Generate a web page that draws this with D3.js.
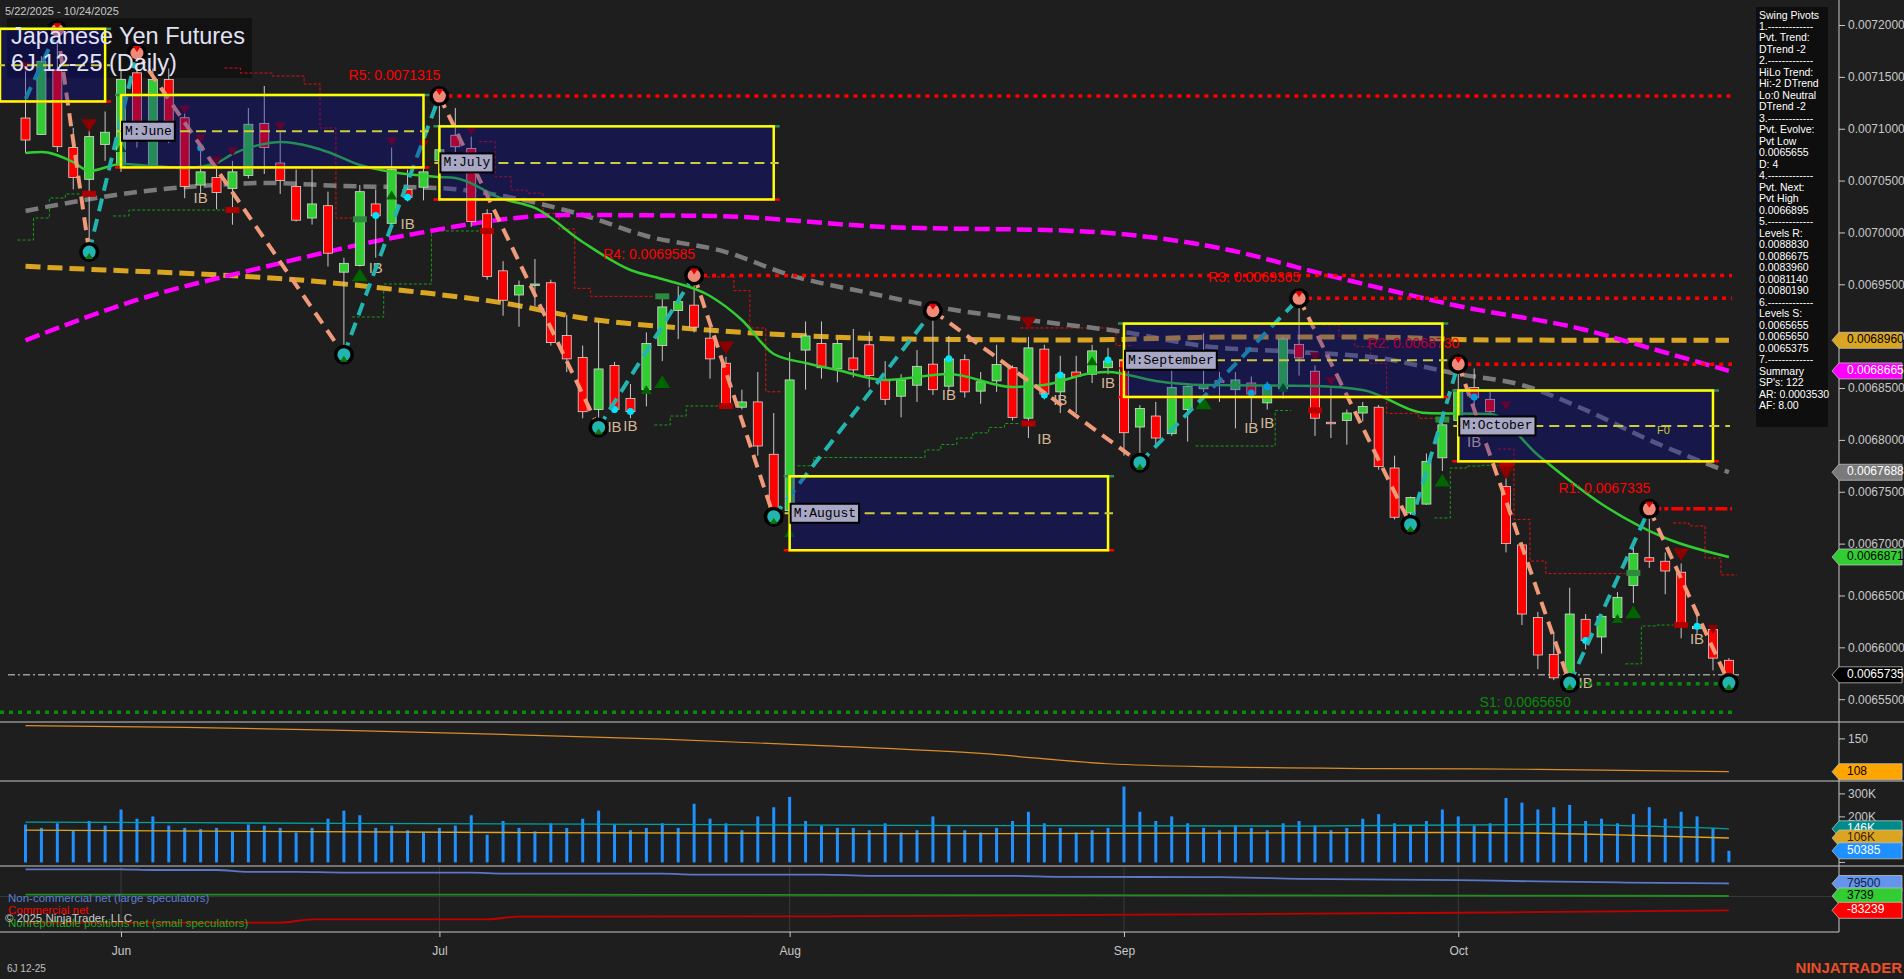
<!DOCTYPE html>
<html><head><meta charset="utf-8">
<script src="https://cdn.jsdelivr.net/npm/d3@7"></script>
<style>html,body{margin:0;padding:0;background:#1e1e1e;overflow:hidden}svg{display:block;font-family:"Liberation Sans",Arial,sans-serif}</style>
</head><body><svg id="chart" width="1904" height="979"></svg>
<script>
// ---------------- DATA ----------------
const dates = ["2025-05-22","2025-05-23","2025-05-27","2025-05-28","2025-05-29","2025-05-30",
"2025-06-02","2025-06-03","2025-06-04","2025-06-05","2025-06-06","2025-06-09","2025-06-10","2025-06-11","2025-06-12","2025-06-13","2025-06-16","2025-06-17","2025-06-18","2025-06-20","2025-06-23","2025-06-24","2025-06-25","2025-06-26","2025-06-27","2025-06-30",
"2025-07-01","2025-07-02","2025-07-03","2025-07-07","2025-07-08","2025-07-09","2025-07-10","2025-07-11","2025-07-14","2025-07-15","2025-07-16","2025-07-17","2025-07-18","2025-07-21","2025-07-22","2025-07-23","2025-07-24","2025-07-25","2025-07-28","2025-07-29","2025-07-30","2025-07-31",
"2025-08-01","2025-08-04","2025-08-05","2025-08-06","2025-08-07","2025-08-08","2025-08-11","2025-08-12","2025-08-13","2025-08-14","2025-08-15","2025-08-18","2025-08-19","2025-08-20","2025-08-21","2025-08-22","2025-08-25","2025-08-26","2025-08-27","2025-08-28","2025-08-29",
"2025-09-02","2025-09-03","2025-09-04","2025-09-05","2025-09-08","2025-09-09","2025-09-10","2025-09-11","2025-09-12","2025-09-15","2025-09-16","2025-09-17","2025-09-18","2025-09-19","2025-09-22","2025-09-23","2025-09-24","2025-09-25","2025-09-26","2025-09-29","2025-09-30",
"2025-10-01","2025-10-02","2025-10-03","2025-10-06","2025-10-07","2025-10-08","2025-10-09","2025-10-10","2025-10-13","2025-10-14","2025-10-15","2025-10-16","2025-10-17","2025-10-20","2025-10-21","2025-10-22","2025-10-23","2025-10-24"];

const openP = [.0071103,.0070945,.0071566,.0070818,.0070512,.0070847,.0070650,.0071539,.0070648,.0071475,.0071106,.0070457,.0070529,.0070423,.0070550,.0071051,.0070669,.0070444,.0070139,.0070258,.0069617,.0069681,.0070275,.0070088,.0070415,.0070436,
.0070691,.0070937,.0070809,.0070181,.0069630,.0069397,.0069490,.0069515,.0069006,.0068794,.0068293,.0068718,.0068399,.0068484,.0068909,.0069248,.0069299,.0068981,.0068739,.0068315,.0068366,.0067861,
.0067318,.0068866,.0068930,.0068684,.0068790,.0068917,.0068578,.0068421,.0068527,.0068730,.0068518,.0068773,.0068470,.0068569,.0068696,.0068209,.0068875,.0068463,.0068654,.0068633,.0068696,
.0068769,.0068124,.0068230,.0068060,.0068293,.0068493,.0068570,.0068484,.0068548,.0068357,.0068493,.0068921,.0068662,.0068170,.0068187,.0068259,.0068315,.0067729,.0067296,.0067381,.0067827,
.0068187,.0068505,.0068391,.0067551,.0066987,.0066287,.0065930,.0065748,.0066270,.0066100,.0066287,.0066596,.0066864,.0066830,.0066724,.0066180,.0066172,.0065875];
const highP = [.0071595,.0071700,.0071950,.0071009,.0070987,.0071166,.0071566,.0071730,.0071581,.0071581,.0071178,.0070852,.0070648,.0070690,.0071200,.0071412,.0070966,.0070606,.0070606,.0070393,.0069757,.0070457,.0070415,.0070818,.0070606,.0070627,
.0071315,.0071200,.0070924,.0070224,.0069723,.0069536,.0069744,.0069545,.0069206,.0068909,.0069150,.0068752,.0068539,.0069036,.0069397,.0069481,.0069585,.0069078,.0068802,.0068484,.0068654,.0068259,
.0068845,.0069142,.0069142,.0068972,.0069070,.0069044,.0068760,.0068633,.0068866,.0069245,.0069002,.0068824,.0068654,.0068917,.0068718,.0068993,.0068917,.0068811,.0068811,.0068917,.0068887,
.0068824,.0068336,.0068366,.0068760,.0068548,.0069027,.0068654,.0068654,.0068612,.0068561,.0068993,.0069365,.0068718,.0068505,.0068293,.0068366,.0068336,.0067848,.0067453,.0067869,.0068209,
.0068732,.0068688,.0068463,.0067742,.0067000,.0066342,.0066151,.0066575,.0066321,.0066321,.0066533,.0066978,.0067335,.0066915,.0066809,.0066363,.0066215,.0065896];
const lowP = [.0070766,.0070940,.0070776,.0070415,.0069811,.0070690,.0070583,.0070818,.0070627,.0070860,.0070330,.0070372,.0070224,.0070075,.0070521,.0070563,.0070372,.0070105,.0070075,.0069672,.0068822,.0069672,.0069757,.0070054,.0070300,.0070309,
.0070670,.0070775,.0070054,.0069545,.0069197,.0069091,.0069290,.0068909,.0068654,.0068209,.0068120,.0068260,.0068209,.0068323,.0068760,.0068972,.0069036,.0068590,.0068306,.0068293,.0067848,.0067260,
.0067296,.0068484,.0068590,.0068556,.0068603,.0068505,.0068336,.0068217,.0068366,.0068433,.0068463,.0068408,.0068349,.0068463,.0068187,.0068018,.0068391,.0068259,.0068259,.0068548,.0068633,
.0067848,.0067780,.0067954,.0068039,.0067984,.0068463,.0068366,.0068111,.0068166,.0068293,.0068399,.0068620,.0068039,.0068018,.0067954,.0068179,.0067712,.0067233,.0067183,.0067373,.0067700,
.0068166,.0068315,.0068209,.0066915,.0066215,.0065790,.0065684,.0065655,.0065981,.0065939,.0066236,.0066427,.0066766,.0066512,.0066087,.0066130,.0065778,.0065655];
const closeP = [.0070891,.0071650,.0070827,.0070529,.0070924,.0070966,.0071476,.0070988,.0071475,.0071072,.0070444,.0070584,.0070385,.0070584,.0071043,.0070818,.0070500,.0070118,.0070275,.0069800,.0069702,.0070393,.0070160,.0070606,.0070338,.0070584,
.0070797,.0070826,.0070105,.0069575,.0069346,.0069490,.0069503,.0068938,.0068781,.0068272,.0068684,.0068293,.0068272,.0068930,.0069282,.0069333,.0069087,.0068781,.0068315,.0068366,.0067941,.0067296,
.0068578,.0069002,.0068696,.0068930,.0068675,.0068620,.0068391,.0068578,.0068709,.0068484,.0068781,.0068463,.0068560,.0068726,.0068217,.0068887,.0068442,.0068633,.0068612,.0068858,.0068760,
.0068069,.0068302,.0068018,.0068505,.0068514,.0068535,.0068560,.0068578,.0068442,.0068518,.0068972,.0068790,.0068209,.0068165,.0068259,.0068323,.0067742,.0067254,.0067445,.0067793,.0068145,
.0068484,.0068408,.0068272,.0067000,.0066321,.0065926,.0065706,.0066321,.0066066,.0066299,.0066482,.0066906,.0066830,.0066736,.0066193,.0066200,.0065896,.0065735];

const priceTicks = [0.0072,0.00715,0.0071,0.00705,0.0070,0.00695,0.0069,0.00685,0.0068,0.00675,0.0067,0.00665,0.0066,0.00655];

// moving averages (bar index, value)
const maMagenta = [[0,.0068960],[7,.0069349],[15,.0069667],[24,.0069975],[34,.0070168],[43,.0070159],[54,.0070053],[66,.0070014],[75,.0069850],[82,.0069580],[90,.0069291],[98,.0069060],[102,.0068886],[107,.0068665]];
const maGold = [[0,.0069673],[5,.0069638],[11,.0069599],[18,.0069532],[24,.0069436],[30,.0069320],[35,.0069175],[42,.0069069],[48,.0069011],[55,.0068973],[66,.0068963],[76,.0068992],[84,.0068992],[92,.0068963],[107,.0068960]];
const maGray = [[0,.0070207],[3,.0070294],[7,.0070390],[11,.0070448],[15,.0070477],[20,.0070448],[26,.0070428],[30,.0070351],[35,.0070168],[39,.0069966],[44,.0069811],[48,.0069590],[53,.0069416],[58,.0069262],[64,.0069137],[69,.0069040],[74,.0068905],[80,.0068847],[85,.0068790],[90,.0068635],[94,.0068529],[98,.0068288],[102,.0067999],[107,.0067688]];
const maGreen = [[0,.0070766],[1,.0070776],[3,.0070679],[4,.0070592],[6,.0070660],[8,.0070641],[10,.0070621],[12,.0070670],[13,.0070756],[15,.0070853],[16,.0070872],[18,.0070824],[19,.0070776],[21,.0070650],[23,.0070583],[26,.0070535],[27,.0070525],[30,.0070322],[32,.0070236],[35,.0069908],[38,.0069638],[40,.0069551],[43,.0069387],[45,.0069156],[47,.0068828],[49,.0068741],[51,.0068674],[54,.0068577],[58,.0068635],[62,.0068510],[64,.0068529],[67,.0068645],[68,.0068655],[71,.0068568],[74,.0068529],[81,.0068520],[84,.0068481],[88,.0068259],[92,.0068250],[95,.0067854],[99,.0067382],[103,.0067054],[107,.0066871]];

// swing pivots (bar index, price)
const pivots = [[0,.0071287],[2,.0071950],[4,.0069811],[7,.0071730],[20,.0068822],[26,.0071315],[36,.0068120],[42,.0069585],[47,.0067260],[57,.0069245],[70,.0067780],[80,.0069365],[87,.0067183],[90,.0068732],[97,.0065655],[102,.0067335],[107,.0065655]];
const pivotType = ["s","H","L","H","L","H","L","H","L","H","L","H","L","H","L","H","L"];

// levels
const levelNames = ["R5","R4","R3","R2","R1","S1"];
const levelValues = [0.0071315,0.0069585,0.0069365,0.0068730,0.0067335,0.0065650];
const levelFrom = [26,42,80,90,102,97];
const levelS3 = 0.0065375;
const lastPrice = 0.0065735;

// monthly boxes
const boxLabels = ["", "M:June","M:July","M:August","M:September","M:October"];
const boxStart = [null,6,26,48,69,90];
const boxEnd = [5,25,47,68,89,106];
const boxTop = [0.0071963,0.0071325,0.0071023,0.0067649,0.0069121,0.0068476];
const boxBottom = [0.0071263,0.0070627,0.0070318,0.0066936,0.0068414,0.0067793];

// step stop lines [bar index, price]
const greenSteps = [
 [[0,.0069927],[1,.0070139],[2,.0070332],[3,.0070371]],
 [[6,.0070159],[7,.0070216],[12,.0070216]],
 [[21,.0069185],[22,.0069185],[23,.0069503],[25,.0069503],[26,.0070014],[28,.0070014]],
 [[40,.0068144],[41,.0068230],[42,.0068327],[43,.0068327]],
 [[49,.0067750],[50,.0067830],[56,.0067830],[57,.0067903],[58,.0067955],[59,.0068018],[60,.0068068],[61,.0068120],[62,.0068158]],
 [[74,.0067941],[78,.0067941],[79,.0068283]],
 [[89,.0067247],[90,.0067729],[91,.0067748],[92,.0067755]],
 [[101,.0065841],[102,.0066206],[103,.0066215]]
];
const redSteps = [
 [[13,.0071585],[14,.0071537],[15,.0071537],[16,.0071508],[17,.0071508],[18,.0071431],[19,.0071007],[20,.0070139]],
 [[29,.0070875],[30,.0070537],[31,.0070409],[32,.0070380],[33,.0070182],[34,.0070033],[35,.0069461],[36,.0069384],[39,.0069384]],
 [[43,.0069571],[44,.0069571],[45,.0069439],[46,.0069079],[47,.0068464]],
 [[63,.0069079],[68,.0069079],[69,.0068909]],
 [[82,.0069108],[83,.0068995],[84,.0068898],[85,.0068738],[86,.0068256],[89,.0068208]],
 [[93,.0067912],[94,.0067233],[95,.0066832],[96,.0066711],[100,.0066711]],
 [[104,.0067199],[105,.0067170],[106,.0066861],[107,.0066698]]
];

// markers [bar index, price, big?]
const downTri = [[0,.0071595,0],[4,.0071030,1],[10,.0071181,0],[11,.0070901,0],[12,.0070689,0],[13,.0070776,0],[16,.0071017,0],[23,.0070875,0],[25,.0070843,0],[28,.0070978,0],[44,.0068886,1],[63,.0069121,1],[69,.0068657,0],[81,.0068802,0],[82,.0068561,0],[93,.0068327,0],[93,.0067681,1],[104,.0066894,1],[106,.0066172,0]];
const upTri = [[6,.0070818,0],[21,.0069590,1],[23,.0070361,0],[39,.0068485,0],[40,.0068561,1],[48,.0067106,0],[67,.0068761,0],[74,.0068356,1],[79,.0068506,0],[89,.0067613,1],[100,.0066278,0],[101,.0066341,1]];
const ibLabels = [[11,.0070318],[22,.0069651],[24,.0070076],[37,.0068111],[38,.0068124],[58,.0068423],[64,.0067999],[65,.0068379],[68,.0068535],[77,.0068105],[78,.0068153],[91,.0067970],[98,.0065642],[105,.0066066]];
const cyanDots = [[11,.0070817],[22,.0070164],[24,.0070339],[37,.0068294],[38,.0068273],[58,.0068782],[64,.0068433],[65,.0068626],[68,.0068770],[77,.0068452],[78,.0068513],[91,.0068414],[98,.0066066],[105,.0066203]];
const redMarks = [[4,.0070373],[13,.0070216],[29,.0070014],[44,.0068327],[63,.0068158],[81,.0068285],[93,.0067755],[104,.0066215]];
const greenMarks = [[21,.0070127],[40,.0069384],[89,.0068196],[101,.0066717]];

// indicator panel (line)
const ind = [[0,166],[10,164],[20,160],[30,155],[40,149],[50,141],[60,131],[68,118],[75,114],[85,112],[95,111],[107,108]];
const indTicks = [150];

// volume (thousands)
const volume = [165,150,170,140,180,160,
230,190,200,160,150,145,150,135,165,160,150,130,150,190,225,205,150,160,140,130,
150,160,205,120,180,150,135,170,150,190,225,165,140,150,170,150,255,190,170,140,200,240,
285,180,160,150,150,140,170,130,140,200,160,140,130,150,180,220,170,150,130,140,150,
330,220,180,200,170,150,140,160,150,140,170,180,160,140,150,190,210,170,160,180,230,
200,160,170,280,260,230,240,250,180,190,170,210,240,190,220,200,150,50.385];
const volTeal = [[0,175],[20,170],[40,165],[60,160],[80,158],[95,165],[107,146]];
const volGold = [[0,140],[30,130],[60,125],[90,130],[100,120],[107,106]];
const volTicks = [300,200];

// COT
const cotNonComm = [[0,165700],[6,165700],[8,161500],[12,161500],[14,150000],[17,150000],[20,146000],[28,146000],[30,140000],[40,140000],[42,134000],[50,134000],[53,126000],[62,126000],[65,120000],[75,118000],[80,108000],[90,100000],[95,92000],[100,86000],[107,79500]];
const cotNonRep = [[0,11500],[20,12000],[40,11000],[60,9000],[80,7000],[100,5000],[107,3739]];
const cotComm = [[0,-158500],[16,-158500],[18,-138000],[29,-138000],[31,-122000],[50,-120000],[70,-110000],[90,-98000],[100,-90000],[107,-83239]];

const monthTicks = ["2025-06-02","2025-07-01","2025-08-01","2025-09-02","2025-10-01"];
const monthNames = ["Jun","Jul","Aug","Sep","Oct"];

const infoLines = ["Swing Pivots","1.-------------","Pvt. Trend:","DTrend -2","2.-------------","HiLo Trend:","Hi:-2 DTrend","Lo:0 Neutral","DTrend -2","3.-------------","Pvt. Evolve:","Pvt Low","0.0065655","D: 4","4.-------------","Pvt. Next:","Pvt High","0.0066895","5.-------------","Levels R:","0.0088830","0.0086675","0.0083960","0.0081140","0.0080190","6.-------------","Levels S:","0.0065655","0.0065650","0.0065375","7.-------------","Summary","SP's: 122","AR: 0.0003530","AF: 8.00"];

// ---------------- LAYOUT ----------------
const W = 1904, AXX = 1839;
const P1 = [0,722], P2 = [722,781], P3 = [781,866], P4 = [866,932];
const svg = d3.select("#chart");
svg.append("rect").attr("width",W).attr("height",979).attr("fill","#1e1e1e");

const x = d3.scalePoint().domain(dates).range([25.5,1728.9]);
const xi = i => x(dates[i]);
const y = d3.scaleLinear().domain([0.0072,0.00655]).range([25,699.2]);
const fmt7 = d3.format(".7f");

const defs = svg.append("defs");
defs.append("clipPath").attr("id","cp1").append("rect").attr("x",0).attr("y",0).attr("width",AXX).attr("height",P1[1]);

// title background
svg.append("text").attr("x",5).attr("y",15).attr("fill","#c8c8c8").attr("font-size",11).text("5/22/2025 - 10/24/2025");
svg.append("rect").attr("x",7).attr("y",18).attr("width",245).attr("height",60).attr("fill","#101010").attr("opacity",0.85);

const g1 = svg.append("g").attr("clip-path","url(#cp1)");

// S3 long dotted + last price line
g1.append("line").attr("x1",0).attr("x2",1732).attr("y1",y(levelS3)).attr("y2",y(levelS3))
  .attr("stroke","#0a8a0a").attr("stroke-width",3.5).attr("stroke-dasharray","4,5");
g1.append("line").attr("x1",8).attr("x2",1739).attr("y1",y(lastPrice)).attr("y2",y(lastPrice))
  .attr("stroke","#9a9a9a").attr("stroke-width",1.5).attr("stroke-dasharray","7,3,2,3");

// step lines
function extendSteps(seg){
  const s = x.step()/2;
  const pts = seg.map(d=>[xi(d[0]),y(d[1])]);
  const out=[[pts[0][0]-s,pts[0][1]]];
  for(let k=0;k<pts.length;k++){
    if(k>0){ const mx=(pts[k-1][0]+pts[k][0])/2; out.push([mx,pts[k-1][1]]); out.push([mx,pts[k][1]]); }
  }
  out.push([pts[pts.length-1][0]+s,pts[pts.length-1][1]]);
  return out;
}
greenSteps.forEach(seg=>g1.append("path").attr("d",d3.line()(extendSteps(seg))).attr("fill","none").attr("stroke","#1a9a1a").attr("stroke-width",1).attr("stroke-dasharray","3,2"));
redSteps.forEach(seg=>g1.append("path").attr("d",d3.line()(extendSteps(seg))).attr("fill","none").attr("stroke","#e01010").attr("stroke-width",1).attr("stroke-dasharray","3,2"));

// moving averages
const maLine = d3.line().x(d=>xi(d[0])).y(d=>y(d[1])).curve(d3.curveMonotoneX);
g1.append("path").attr("d",maLine(maGray)).attr("fill","none").attr("stroke","#7a7a7a").attr("stroke-width",4.5).attr("stroke-dasharray","13,7");
g1.append("path").attr("d",maLine(maGold)).attr("fill","none").attr("stroke","#daa520").attr("stroke-width",5).attr("stroke-dasharray","15,7");
g1.append("path").attr("d",maLine(maMagenta)).attr("fill","none").attr("stroke","#ff00ff").attr("stroke-width",4.5).attr("stroke-dasharray","15,6");

// candles
const cg = g1.append("g");
dates.forEach((d,i)=>{
  const cx = x(d), up = closeP[i] >= openP[i];
  cg.append("line").attr("x1",cx).attr("x2",cx).attr("y1",y(highP[i])).attr("y2",y(lowP[i])).attr("stroke","#c8c8c8").attr("stroke-width",1);
  const yt = y(Math.max(openP[i],closeP[i])), yb = y(Math.min(openP[i],closeP[i]));
  cg.append("rect").attr("x",cx-4.5).attr("width",9).attr("y",yt).attr("height",Math.max(1.5,yb-yt))
    .attr("fill",up?"#32cd32":"#ff0000").attr("stroke","#d8d8d8").attr("stroke-width",0.8);
});
g1.append("path").attr("d",maLine(maGreen)).attr("fill","none").attr("stroke","#32cd32").attr("stroke-width",2.5);

// small marks
redMarks.forEach(d=>g1.append("rect").attr("x",xi(d[0])-7).attr("y",y(d[1])-3).attr("width",14).attr("height",6).attr("fill","#b00000"));
greenMarks.forEach(d=>g1.append("rect").attr("x",xi(d[0])-7).attr("y",y(d[1])-3).attr("width",14).attr("height",6).attr("fill","#2e8b3e"));

// triangles
downTri.forEach(d=>{const cx=xi(d[0]),cy=y(d[1]),s=d[2]?8:5.5;
  g1.append("path").attr("d",`M${cx-s},${cy-s*0.8}L${cx+s},${cy-s*0.8}L${cx},${cy+s*0.8}Z`).attr("fill","#8b0000");});
upTri.forEach(d=>{const cx=xi(d[0]),cy=y(d[1]),s=d[2]?8:5.5;
  g1.append("path").attr("d",`M${cx-s},${cy+s*0.8}L${cx+s},${cy+s*0.8}L${cx},${cy-s*0.8}Z`).attr("fill","#006400");});

// cyan dots + IB
cyanDots.forEach(d=>g1.append("circle").attr("cx",xi(d[0])).attr("cy",y(d[1])).attr("r",3.5).attr("fill","#00e5ff"));
ibLabels.forEach(d=>g1.append("text").attr("x",xi(d[0])).attr("y",y(d[1])).attr("text-anchor","middle").attr("dominant-baseline","middle").attr("font-size",15).attr("fill","#d2b896").text("IB"));

// level lines
levelNames.forEach((n,k)=>{
  const v=levelValues[k], x0=xi(levelFrom[k]), yy=y(v), isS=n[0]==="S";
  const col = isS?"#0a8a0a":"#ff0000";
  g1.append("line").attr("x1",x0).attr("x2",1732).attr("y1",yy).attr("y2",yy).attr("stroke",col).attr("stroke-width",3.5)
    .attr("stroke-dasharray", n==="R1"?"12,3,4,3":"4,5");
  g1.append("text").attr("x",x0+1).attr("y",isS?yy+20:yy-20).attr("text-anchor","end").attr("dominant-baseline","middle")
    .attr("font-size",14).attr("fill",col).text(`${n}: ${fmt7(v)}`);
});

// zigzag
for(let k=1;k<pivots.length;k++){
  const a=pivots[k-1], b=pivots[k], upLeg=b[1]>a[1];
  g1.append("line").attr("x1",xi(a[0])).attr("y1",y(a[1])).attr("x2",xi(b[0])).attr("y2",y(b[1]))
    .attr("stroke",upLeg?"#22b5b0":"#f09a7a").attr("stroke-width",4).attr("stroke-dasharray","13,8");
}
pivots.forEach((p,k)=>{
  if(pivotType[k]==="s") return;
  const cx=xi(p[0]), cy=y(p[1]), lo=pivotType[k]==="L";
  g1.append("circle").attr("cx",cx).attr("cy",cy).attr("r",10).attr("fill","#000");
  g1.append("circle").attr("cx",cx).attr("cy",cy).attr("r",6.5).attr("fill",lo?"#22b5b0":"#f08a78");
  if(lo) g1.append("path").attr("d",`M${cx-4},${cy+7}L${cx+4},${cy+7}L${cx},${cy+1}Z`).attr("fill","#0a7a0a");
  else g1.append("path").attr("d",`M${cx-4},${cy-7}L${cx+4},${cy-7}L${cx},${cy-1}Z`).attr("fill","#e00000");
});

// monthly boxes
boxLabels.forEach((lab,k)=>{
  const x0 = boxStart[k]===null?0:xi(boxStart[k]), x1 = xi(boxEnd[k]);
  const yt=y(boxTop[k]), yb=y(boxBottom[k]), ym=(yt+yb)/2;
  g1.append("line").attr("x1",x0-6).attr("x2",x1+6).attr("y1",yt).attr("y2",yt).attr("stroke","#2e8b57").attr("stroke-width",2.5);
  g1.append("line").attr("x1",x0-6).attr("x2",x1+6).attr("y1",yb).attr("y2",yb).attr("stroke","#ff0000").attr("stroke-width",2.5);
  g1.append("rect").attr("x",x0).attr("y",yt).attr("width",x1-x0).attr("height",yb-yt)
    .attr("fill","rgb(10,10,160)").attr("fill-opacity",0.33).attr("stroke","#ffff00").attr("stroke-width",2.5);
  const xe = k===boxLabels.length-1 ? 1730 : x1+5;
  g1.append("line").attr("x1",x0-5).attr("x2",xe).attr("y1",ym).attr("y2",ym).attr("stroke","#cccc3c").attr("stroke-width",2).attr("stroke-dasharray","10,6");
  if(lab){
    const t = g1.append("text").attr("x",x0+4).attr("y",ym).attr("dominant-baseline","middle").attr("font-family","'Liberation Mono','DejaVu Sans Mono',monospace").attr("font-size",13).attr("fill","#000").text(lab);
    const bb = t.node().getBBox();
    g1.insert("rect",()=>t.node()).attr("x",bb.x-3).attr("y",ym-9.5).attr("width",bb.width+6).attr("height",19).attr("fill","#a8a8c6").attr("stroke","#000").attr("stroke-width",2);
  }
});
g1.append("text").attr("x",1657).attr("y",y(boxBottom[5])-30).attr("font-size",11).attr("fill","#c8c832").attr("dominant-baseline","middle").text("F0");

// title text on top
svg.append("text").attr("x",11).attr("y",44).attr("fill","#e2e2f6").attr("font-size",23.5).text("Japanese Yen Futures");
svg.append("text").attr("x",11).attr("y",71).attr("fill","#e2e2f6").attr("font-size",23.5).text("6J 12-25 (Daily)");

// ---------------- info panel ----------------
svg.append("rect").attr("x",1756).attr("y",7).attr("width",72).attr("height",420).attr("fill","#0e0e0e");
infoLines.forEach((t,k)=>svg.append("text").attr("x",1759).attr("y",18.5+k*11.49).attr("font-size",10.5).attr("fill","#ffffff").text(t));

// ---------------- axes ----------------
const axisCol = "#c8c8c8";
svg.append("line").attr("x1",AXX).attr("x2",AXX).attr("y1",0).attr("y2",P4[1]).attr("stroke",axisCol);
[P1[1],P2[1],P3[1]].forEach(v=>svg.append("line").attr("x1",0).attr("x2",W).attr("y1",v).attr("y2",v).attr("stroke",axisCol));
svg.append("line").attr("x1",0).attr("x2",AXX).attr("y1",P4[1]).attr("y2",P4[1]).attr("stroke",axisCol);

const yAxis = d3.axisRight(y).tickValues(priceTicks).tickFormat(fmt7).tickSize(6).tickPadding(3);
const ga = svg.append("g").attr("transform",`translate(${AXX},0)`).call(yAxis);
ga.select(".domain").remove();
ga.selectAll("line").attr("stroke",axisCol);
ga.selectAll("text").attr("fill",axisCol).attr("font-size",12).attr("font-family","'Liberation Sans',Arial,sans-serif");

function tag(yy, bg, fg, txt){
  svg.append("path").attr("d",`M${AXX-7},${yy}L${AXX},${yy-8}L1902,${yy-8}L1902,${yy+8}L${AXX},${yy+8}Z`).attr("fill",bg).attr("stroke","#bdbdbd").attr("stroke-width",0.8);
  svg.append("text").attr("x",AXX+8).attr("y",yy).attr("dominant-baseline","middle").attr("font-size",12).attr("fill",fg).text(txt);
}
tag(y(maGold[maGold.length-1][1]),"#daa520","#000",fmt7(maGold[maGold.length-1][1]));
tag(y(maMagenta[maMagenta.length-1][1]),"#ff00ff","#fff",fmt7(maMagenta[maMagenta.length-1][1]));
tag(y(maGray[maGray.length-1][1]),"#7a7a7a","#fff",fmt7(maGray[maGray.length-1][1]));
tag(y(maGreen[maGreen.length-1][1]),"#32cd32","#000",fmt7(maGreen[maGreen.length-1][1]));
tag(y(lastPrice),"#000000","#fff",fmt7(lastPrice));

// ---------------- indicator panel ----------------
const yInd = d3.scaleLinear().domain([150,108]).range([738.4,771.7]);
svg.append("path").attr("d",d3.line().x(d=>xi(d[0])).y(d=>yInd(d[1])).curve(d3.curveMonotoneX)(ind)).attr("fill","none").attr("stroke","#d98c2a").attr("stroke-width",1.2);
const gi = svg.append("g").attr("transform",`translate(${AXX},0)`).call(d3.axisRight(yInd).tickValues(indTicks).tickSize(6).tickPadding(3));
gi.select(".domain").remove(); gi.selectAll("line").attr("stroke",axisCol); gi.selectAll("text").attr("fill",axisCol).attr("font-size",12);
tag(yInd(ind[ind.length-1][1]),"#ffa500","#000",String(ind[ind.length-1][1]));

// ---------------- volume panel ----------------
const yVol = d3.scaleLinear().domain([0,300]).range([862.4,793.4]);
volume.forEach((v,i)=>svg.append("rect").attr("x",xi(i)-1.5).attr("width",3).attr("y",yVol(v)).attr("height",yVol(0)-yVol(v)).attr("fill","#1e90ff"));
const vLine = d3.line().x(d=>xi(d[0])).y(d=>yVol(d[1])).curve(d3.curveMonotoneX);
svg.append("path").attr("d",vLine(volGold)).attr("fill","none").attr("stroke","#daa520").attr("stroke-width",1.3);
svg.append("path").attr("d",vLine(volTeal)).attr("fill","none").attr("stroke","#00a0a0").attr("stroke-width",1.3);
const gv = svg.append("g").attr("transform",`translate(${AXX},0)`).call(d3.axisRight(yVol).tickValues(volTicks).tickFormat(d=>d+"K").tickSize(6).tickPadding(3));
gv.select(".domain").remove(); gv.selectAll("line").attr("stroke",axisCol); gv.selectAll("text").attr("fill",axisCol).attr("font-size",12);
svg.append("line").attr("x1",AXX).attr("x2",AXX+6).attr("y1",yVol(0)).attr("y2",yVol(0)).attr("stroke",axisCol);
tag(yVol(volTeal[volTeal.length-1][1]),"#008b8b","#fff",volTeal[volTeal.length-1][1]+"K");
tag(yVol(volGold[volGold.length-1][1]),"#daa520","#402000",volGold[volGold.length-1][1]+"K");
tag(yVol(volume[volume.length-1]),"#1e90ff","#fff",String(Math.round(volume[volume.length-1]*1000)));

// ---------------- COT panel ----------------
const yCot = d3.scaleLinear().domain([79500,-83239]).range([883.5,910.3]);
monthTicks.forEach(m=>svg.append("line").attr("x1",x(m)).attr("x2",x(m)).attr("y1",P3[1]+1).attr("y2",P4[1]-1).attr("stroke","#3a3a3a"));
svg.append("line").attr("x1",0).attr("x2",AXX).attr("y1",yCot(0)).attr("y2",yCot(0)).attr("stroke","#3a3a3a");
const cLine = d3.line().x(d=>xi(d[0])).y(d=>yCot(d[1])).curve(d3.curveMonotoneX);
svg.append("path").attr("d",cLine(cotNonComm)).attr("fill","none").attr("stroke","#5a78c8").attr("stroke-width",1.8);
svg.append("path").attr("d",cLine(cotNonRep)).attr("fill","none").attr("stroke","#228b22").attr("stroke-width",1.8);
svg.append("path").attr("d",cLine(cotComm)).attr("fill","none").attr("stroke","#c00000").attr("stroke-width",1.8);
svg.append("text").attr("x",8).attr("y",898.5).attr("dominant-baseline","middle").attr("font-size",11.5).attr("fill","#5a80d8").text("Non-commercial net (large speculators)");
svg.append("text").attr("x",8).attr("y",911).attr("dominant-baseline","middle").attr("font-size",11.5).attr("fill","#ff0000").text("Commercial net");
svg.append("text").attr("x",8).attr("y",923.5).attr("dominant-baseline","middle").attr("font-size",11.5).attr("fill","#22aa22").text("Nonreportable positions net (small speculators)");
svg.append("text").attr("x",5).attr("y",918.5).attr("dominant-baseline","middle").attr("font-size",11.5).attr("fill","#c8c8c8").text("© 2025 NinjaTrader, LLC");
tag(yCot(cotNonComm[cotNonComm.length-1][1]),"#6495ed","#102040",String(cotNonComm[cotNonComm.length-1][1]));
tag(yCot(cotNonRep[cotNonRep.length-1][1]),"#32cd32","#000",String(cotNonRep[cotNonRep.length-1][1]));
tag(yCot(cotComm[cotComm.length-1][1]),"#ff0000","#fff",String(cotComm[cotComm.length-1][1]));

// ---------------- x axis ----------------
const gx = svg.append("g").attr("transform",`translate(0,${P4[1]})`).call(d3.axisBottom(x).tickValues(monthTicks).tickFormat((d,k)=>monthNames[k]).tickSize(5).tickPadding(9));
gx.select(".domain").remove(); gx.selectAll("line").attr("stroke",axisCol); gx.selectAll("text").attr("fill",axisCol).attr("font-size",12);
svg.append("text").attr("x",7).attr("y",969).attr("dominant-baseline","middle").attr("font-size",10).attr("fill","#c0c0c0").text("6J 12-25");
svg.append("text").attr("x",1902).attr("y",969).attr("text-anchor","end").attr("dominant-baseline","middle").attr("font-size",15).attr("font-weight","bold").attr("fill","#e8502a").text("NINJATRADER");
</script></body></html>
